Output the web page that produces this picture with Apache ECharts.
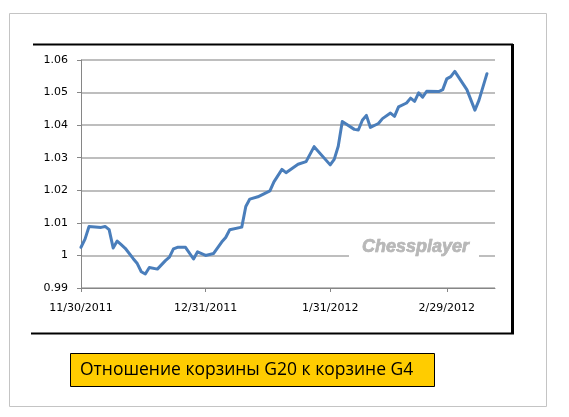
<!DOCTYPE html>
<html><head><meta charset="utf-8">
<script src="https://cdn.jsdelivr.net/npm/echarts@6/dist/echarts.min.js"></script>
<style>html,body{margin:0;padding:0;background:#fff}#c{width:569px;height:417px}</style>
</head><body><div id="c"></div>
<script>
const dates = [
  '2011-11-30','2011-12-01','2011-12-02','2011-12-05','2011-12-06','2011-12-07','2011-12-08','2011-12-09',
  '2011-12-10','2011-12-11','2011-12-13','2011-12-14','2011-12-15','2011-12-16','2011-12-17','2011-12-19',
  '2011-12-21','2011-12-22','2011-12-23','2011-12-24','2011-12-26','2011-12-28','2011-12-29','2011-12-31',
  '2012-01-02','2012-01-04','2012-01-05','2012-01-06','2012-01-09','2012-01-10','2012-01-11','2012-01-13',
  '2012-01-16','2012-01-17','2012-01-19','2012-01-20','2012-01-23','2012-01-25','2012-01-27','2012-01-31',
  '2012-02-01','2012-02-02','2012-02-03','2012-02-06','2012-02-07','2012-02-08','2012-02-09','2012-02-10',
  '2012-02-12','2012-02-13','2012-02-15','2012-02-16','2012-02-17','2012-02-19','2012-02-20','2012-02-21',
  '2012-02-22','2012-02-23','2012-02-24','2012-02-27','2012-02-28','2012-02-29','2012-03-01','2012-03-02',
  '2012-03-05','2012-03-07','2012-03-08','2012-03-10'
];
const ratio = [
  1.0025,1.0050,1.0089,1.0086,1.0089,1.0079,1.0023,1.0044,
  1.0033,1.0022,0.9990,0.9975,0.9950,0.9943,0.9963,0.9958,
  0.9984,0.9995,1.0020,1.0025,1.0025,0.9989,1.0011,1.0000,
  1.0006,1.0041,1.0055,1.0079,1.0087,1.0150,1.0173,1.0180,
  1.0198,1.0226,1.0264,1.0254,1.0280,1.0288,1.0334,1.0278,
  1.0295,1.0335,1.0411,1.0387,1.0385,1.0415,1.0430,1.0393,
  1.0405,1.0420,1.0437,1.0427,1.0456,1.0468,1.0483,1.0473,
  1.0499,1.0486,1.0504,1.0503,1.0509,1.0542,1.0549,1.0565,
  1.0509,1.0446,1.0476,1.0558
];
const xTickDates = ['2011-11-30','2011-12-31','2012-01-31','2012-02-29'];
const xRange = ['2011-11-30','2012-03-12'];
const yTicks = [0.99, 1.00, 1.01, 1.02, 1.03, 1.04, 1.05, 1.06];
const seriesName = 'Отношение корзины G20 к корзине G4';
const watermarkText = 'Chessplayer';

const P = s => echarts.number.parseDate(s).getTime();
const chart = echarts.init(document.getElementById('c'), null, {renderer: 'canvas'});
const axisGray = '#868686';
const option = {
  backgroundColor: '#ffffff',
  animation: false,
  grid: {left: 81, right: 74, top: 60, bottom: 129},
  xAxis: {
    type: 'value',
    min: P(xRange[0]), max: P(xRange[1]),
    axisLine: {show: true, lineStyle: {color: axisGray, width: 1}},
    axisTick: {show: true, length: 4, lineStyle: {color: axisGray}, customValues: xTickDates.map(P)},
    axisLabel: {
      customValues: xTickDates.map(P), margin: 15, showMinLabel: true, showMaxLabel: true,
      color: '#000', fontFamily: 'DejaVu Sans', fontSize: 11,
      formatter: v => { const d = new Date(v); return (d.getMonth()+1) + '/' + d.getDate() + '/' + d.getFullYear(); }
    },
    splitLine: {show: false}
  },
  yAxis: {
    type: 'value',
    min: yTicks[0], max: yTicks[yTicks.length-1], interval: 0.01,
    axisLine: {show: true, lineStyle: {color: axisGray, width: 1}},
    axisTick: {show: true, length: 4, lineStyle: {color: axisGray}},
    axisLabel: {margin: 13, color: '#000', fontFamily: 'DejaVu Sans', fontSize: 11,
      formatter: v => String(Number(v.toFixed(2)))},
    splitLine: {show: true, lineStyle: {color: '#a8a8a8', width: 1.5}}
  },
  series: [{
    name: seriesName,
    type: 'line',
    data: dates.map((d, i) => [P(d), ratio[i]]),
    showSymbol: false,
    symbol: 'none',
    lineStyle: {color: '#4a7ebb', width: 3, join: 'round', cap: 'round'},
    itemStyle: {color: '#4a7ebb'},
    z: 5
  }],
  graphic: [
    {type: 'rect', z: 0, silent: true, shape: {x: 9.5, y: 13.5, width: 537, height: 393},
      style: {fill: 'none', stroke: '#c4c4c4', lineWidth: 1}},
    {type: 'line', z: 100, silent: true, shape: {x1: 33, y1: 44.5, x2: 513, y2: 44.5}, style: {stroke: '#000', lineWidth: 2}},
    {type: 'line', z: 100, silent: true, shape: {x1: 512.5, y1: 44, x2: 512.5, y2: 334}, style: {stroke: '#000', lineWidth: 3}},
    {type: 'line', z: 100, silent: true, shape: {x1: 31, y1: 333.5, x2: 514, y2: 333.5}, style: {stroke: '#000', lineWidth: 2}},
    {type: 'rect', z: 100, silent: true, shape: {x: 349, y: 236, width: 130, height: 24}, style: {fill: '#fff'}},
    {type: 'text', z: 101, silent: true, x: 362, y: 238,
      style: {text: watermarkText, fill: '#b8b8b8', stroke: '#a8a8a8', lineWidth: 0.6,
        font: 'italic bold 18px "Liberation Sans", Arial, sans-serif'}},
    {type: 'rect', z: 100, silent: true, shape: {x: 70.5, y: 353.5, width: 364, height: 33},
      style: {fill: '#ffcc00', stroke: '#000', lineWidth: 1}},
    {type: 'text', z: 101, silent: true, x: 80, y: 370.5,
      style: {text: seriesName, fill: '#000', font: '17.5px "Open Sans", sans-serif', verticalAlign: 'middle'}}
  ]
};
chart.setOption(option);
</script>
</body></html>
